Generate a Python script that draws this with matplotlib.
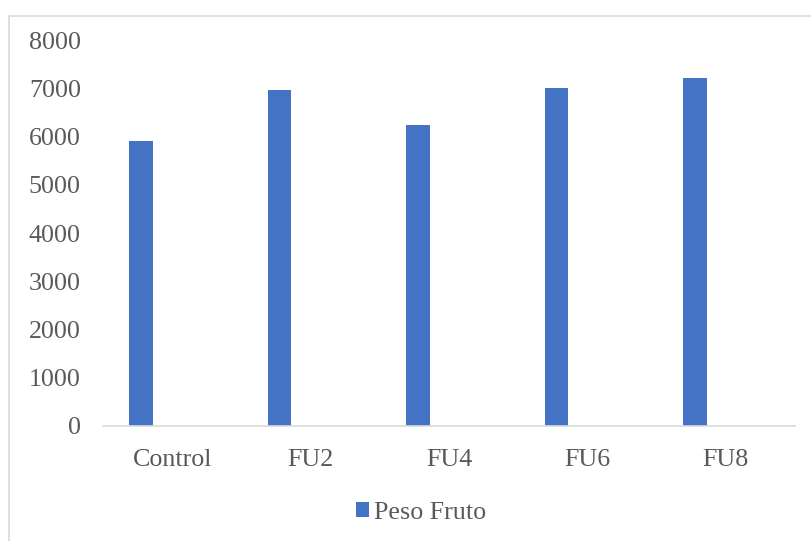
import numpy as np
import matplotlib
matplotlib.use('Agg')
import matplotlib.pyplot as plt
from matplotlib.patches import Rectangle

# datos
categorias = ['Control', 'FU2', 'FU4', 'FU6', 'FU8']
peso_fruto = [5920, 6970, 6240, 7010, 7225]
y_ticks = [0, 1000, 2000, 3000, 4000, 5000, 6000, 7000, 8000]

plt.rcParams['font.family'] = ['Liberation Serif', 'DejaVu Serif']
fs = 18.7
gris = '#595959'

fig = plt.figure(figsize=(8.12, 5.41), dpi=100)
ax = fig.add_axes([103/812, 1-425.5/541, 692/812, (425.5-40.7)/541])

x = np.arange(len(categorias))
ax.bar(x - 0.224, peso_fruto, width=0.17, color='#4472C4', label='Peso Fruto')

ax.set_xlim(-0.5, len(categorias) - 0.5)
ax.set_ylim(0, 8000)
ax.set_yticks(y_ticks)
ax.set_xticks(x)
ax.set_xticklabels(categorias)

for s in ['top', 'right', 'left']:
    ax.spines[s].set_visible(False)
ax.spines['bottom'].set_color('#D9D9D9')
ax.spines['bottom'].set_linewidth(1.2)
ax.tick_params(axis='both', length=0, labelsize=fs, labelcolor=gris)
ax.tick_params(axis='y', pad=16)
ax.tick_params(axis='x', pad=17)

# borde del area del grafico
fig.patches.append(Rectangle((9/812, -0.1), 1.2, (541-16)/541 + 0.1,
                             transform=fig.transFigure, fill=False,
                             edgecolor='#D9D9D9', linewidth=1.2))

fig.legend(loc='center', bbox_to_anchor=(421/812, 1-513/541), frameon=False,
           fontsize=fs, labelcolor=gris, handlelength=0.5, handleheight=0.5,
           handletextpad=0.2)

fig.savefig('out.png', dpi=100)
